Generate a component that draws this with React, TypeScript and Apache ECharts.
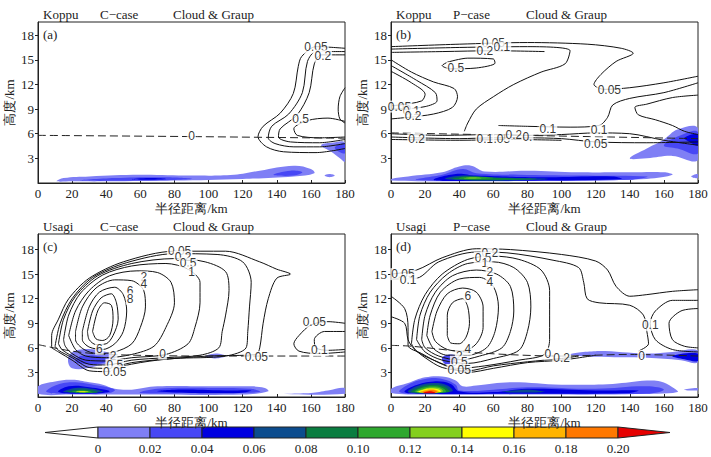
import React, { useEffect, useRef } from 'react';
import * as echarts from 'echarts';

type Pt = [number, number];

const xTicks = [0, 20, 40, 60, 80, 100, 120, 140, 160, 180];
const levelLabels = ['0', '0.02', '0.04', '0.06', '0.08', '0.10', '0.12', '0.14', '0.16', '0.18', '0.20'];
const fillColors = ['#7f7ff5', '#4747f5', '#0000e0', '#0b4c8e', '#0a7d40', '#2ea82e', '#84d01e', '#ffff00', '#ffb400', '#ff7800', '#e60000'];

// ---- panel (a) Koppu C-case
const aFills: [number, Pt[]][] = [
  [0, [[11, 0.2], [15, 0.6], [30, 0.8], [60, 1.0], [90, 0.9], [115, 1.0], [130, 1.5], [150, 2.1], [160, 1.7], [162, 1.2], [150, 0.8], [120, 0.5], [80, 0.3], [40, 0.2], [20, 0.2]]],
  [0, [[168, 0.9], [171, 1.1], [174, 0.9], [171, 0.7]]],
  [0, [[166, 4.6], [172, 3.8], [177, 3.0], [180, 2.6], [180, 4.9], [172, 4.9]]],
  [1, [[25, 0.3], [45, 0.6], [75, 0.7], [90, 0.5], [60, 0.3]]],
  [1, [[138, 1.0], [148, 1.5], [155, 1.3], [150, 0.9]]],
  [1, [[174, 4.3], [180, 3.6], [180, 4.8]]],
  [2, [[55, 0.45], [65, 0.6], [75, 0.5], [65, 0.4]]],
];
const aLines: Pt[][] = [
  [[180, 16.4], [163, 16.6], [154.6, 15.4], [152.6, 14.2], [149.7, 10.9], [142, 8.5], [132, 6.9], [129, 5.65], [134, 4.4], [144, 3.8], [163, 3.7], [180, 4.2]],
  [[180, 16.0], [163, 16.0], [158, 14.8], [155, 11], [147, 8.4], [137, 6.9], [135, 5.5], [139, 4.8], [150, 4.4], [165, 4.4], [180, 4.8]],
  [[180, 15.6], [166, 15.6], [162, 14.5], [159, 11], [152, 8.3], [142, 6.6], [141, 5.6], [148, 5.0], [165, 4.9], [180, 5.3]],
  [[180, 7.5], [170, 7.9], [158, 7.6], [150, 6.6], [152, 5.8], [165, 5.5], [180, 5.6]],
  [[180, 11.6], [177, 10.5], [176, 9], [177, 7.8], [180, 7.3]],
];
const aZero: Pt[] = [[0, 5.8], [90, 5.65], [180, 5.45]];
const aLabels: [number, number, string][] = [
  [163, 16.5, '0.05'], [167, 15.5, '0.2'], [154, 7.8, '0.5'], [90, 5.7, '0'],
];

// ---- panel (b) Koppu P-case
const bFills: [number, Pt[]][] = [
  [0, [[0, 0.3], [0, 0.5], [10, 0.8], [30, 1.3], [40, 2.0], [47, 2.1], [55, 1.4], [80, 1.5], [110, 1.3], [140, 1.3], [160, 1.3], [165, 1.0], [150, 0.5], [100, 0.3], [40, 0.2]]],
  [0, [[176, 0.8], [180, 1.1], [180, 0.6]]],
  [0, [[140, 3.0], [150, 4.2], [160, 5.3], [168, 6.5], [180, 6.7], [180, 2.8], [165, 3.3], [150, 3.0]]],
  [1, [[15, 0.4], [30, 1.0], [42, 1.7], [50, 1.2], [75, 1.0], [110, 0.9], [150, 0.8], [140, 0.4], [60, 0.3]]],
  [1, [[160, 4.6], [170, 5.8], [180, 6.2], [180, 3.6], [168, 4.2]]],
  [2, [[25, 0.4], [38, 1.1], [50, 0.9], [90, 0.7], [130, 0.8], [135, 0.5], [90, 0.3], [40, 0.25]]],
  [2, [[172, 5.5], [180, 5.9], [180, 4.6], [175, 5.0]]],
  [3, [[32, 0.5], [42, 0.9], [60, 0.7], [92, 0.5], [60, 0.3]]],
  [4, [[36, 0.5], [45, 0.8], [65, 0.6], [85, 0.5], [60, 0.35]]],
  [5, [[40, 0.55], [47, 0.72], [60, 0.6], [52, 0.5]]],
  [6, [[43, 0.58], [48, 0.66], [53, 0.57]]],
];
const bLines: Pt[][] = [
  [[0, 16.6], [40, 16.9], [80, 17.1], [115, 16.9], [135, 16.4], [142, 15.8], [132, 14.8], [123, 13.2], [119, 12.0], [125, 11.4], [140, 11.6], [160, 12.2], [180, 13.0]],
  [[0, 16.3], [40, 16.5], [80, 16.6], [105, 16.1], [102, 14.5], [88, 13.5], [72, 12], [60, 10.5], [50, 9], [45, 7.3], [43, 6.3]],
  [[0, 15.9], [30, 16.0], [60, 16.1], [90, 16.0]],
  [[0, 15.0], [12, 13.5], [25, 12.3], [37, 11.5], [39, 10.5], [36, 9.2], [25, 8.4], [10, 8.0], [0, 7.8]],
  [[0, 14.3], [15, 12.5], [26, 11.0], [27, 10.0], [20, 9.3], [5, 9.0], [0, 9.0]],
  [[0, 13.6], [12, 12.2], [20, 10.8], [18, 10.0], [5, 9.5], [0, 9.4]],
  [[33, 14.7], [45, 15.2], [60, 15.1], [61, 14.6], [50, 14.0], [35, 13.9], [30, 14.3], [33, 14.7]],
  [[63, 7.0], [80, 6.9], [105, 6.8], [122, 7.0], [127, 8.0], [130, 9.5], [140, 10.3], [160, 11.0], [180, 12.2]],
  [[180, 10.7], [165, 10.4], [150, 9.6], [143, 9.2], [145, 8.3], [155, 7.7], [165, 7.0], [172, 6.3], [180, 5.9]],
  [[0, 6.0], [30, 5.8], [60, 5.9], [80, 5.8], [100, 5.9], [120, 6.1], [140, 6.0], [160, 5.2], [180, 4.6]],
  [[0, 5.6], [40, 5.4], [60, 5.5], [80, 5.5], [100, 5.4], [120, 5.0], [150, 4.9], [180, 5.0]],
  [[0, 5.3], [40, 5.2], [70, 5.3], [100, 5.2]],
];
const bZero: Pt[] = [[0, 6.1], [90, 5.75], [180, 5.4]];
const bLabels: [number, number, string][] = [
  [60, 17.0, '0.05'], [65, 16.5, '0.1'], [55, 16.1, '0.2'], [38, 14.0, '0.5'], [5, 9.3, '0.05'], [12, 8.8, '0.1'], [13, 8.2, '0.2'],
  [128, 11.3, '0.05'], [92, 6.6, '0.1'], [122, 6.4, '0.1'], [15, 5.4, '0.2'], [55, 5.4, '0.1'], [65, 5.3, '.05'], [72, 5.8, '0.2'], [80, 5.6, '0.'], [120, 4.8, '0.05'],
];

// ---- panel (c) Usagi C-case
const cFills: [number, Pt[]][] = [
  [0, [[0, 0.4], [0, 1.3], [10, 1.9], [20, 2.1], [30, 1.8], [38, 1.5], [45, 1.0], [55, 0.9], [70, 1.3], [100, 1.3], [125, 1.3], [133, 1.1], [135, 0.7], [120, 0.3], [60, 0.3], [20, 0.3]]],
  [0, [[140, 0.4], [160, 0.5], [170, 0.8], [180, 1.1], [180, 0.4]]],
  [0, [[20, 3.5], [18, 5.0], [25, 5.8], [40, 5.5], [45, 4.6], [35, 3.8]]],
  [0, [[98, 4.9], [104, 5.3], [110, 5.0], [104, 4.7]]],
  [1, [[5, 0.6], [10, 1.4], [20, 1.8], [35, 1.4], [45, 0.9], [42, 0.5], [20, 0.4]]],
  [1, [[60, 0.5], [70, 1.0], [100, 1.1], [125, 1.0], [130, 0.6], [100, 0.5]]],
  [1, [[22, 4.3], [25, 5.0], [38, 4.9], [40, 4.3], [30, 4.0]]],
  [2, [[12, 0.6], [18, 1.3], [30, 1.2], [42, 0.7], [30, 0.4]]],
  [2, [[70, 0.7], [80, 0.9], [110, 0.8], [125, 0.8], [118, 0.5], [90, 0.5]]],
  [3, [[15, 0.6], [22, 1.1], [32, 1.0], [38, 0.6]]],
  [4, [[17, 0.6], [24, 0.9], [32, 0.8], [35, 0.55]]],
  [5, [[20, 0.6], [25, 0.8], [30, 0.7], [32, 0.55]]],
  [7, [[22, 0.6], [26, 0.7], [30, 0.6]]],
];
const cLines: Pt[][] = [
  [[8, 6.0], [8, 7.5], [12, 9.5], [18, 12.0], [30, 14.5], [50, 16.5], [80, 17.8], [110, 17.8], [130, 16.5], [140, 15.6], [148, 15.0], [140, 14.5], [135, 12], [132, 9], [130, 6], [128, 5.2], [100, 5.0], [70, 4.5], [50, 3.8], [40, 3.1], [30, 3.2], [20, 4.5], [12, 5.5], [8, 6.0]],
  [[10, 6.2], [13, 9], [20, 12], [32, 14.6], [52, 16.4], [80, 17.5], [105, 17.4], [120, 16.5], [125, 14], [124, 11], [123, 8], [122, 6], [110, 5.0], [80, 4.7], [55, 4.2], [40, 3.5], [30, 3.6], [20, 4.8], [12, 5.7], [10, 6.2]],
  [[12, 6.5], [15, 9.5], [22, 12.3], [35, 14.8], [55, 16.3], [80, 16.9], [98, 16.5], [110, 15.3], [112, 13], [110, 10], [108, 8], [106, 6.0], [95, 5.1], [75, 4.8], [55, 4.5], [40, 3.9], [30, 4.0], [20, 5.0], [14, 5.8], [12, 6.5]],
  [[15, 7], [18, 10], [25, 12.7], [38, 14.9], [55, 16.0], [75, 16.3], [88, 15.6], [95, 14], [95, 11.5], [92, 8.5], [88, 6.5], [75, 5.2], [55, 4.8], [40, 4.4], [28, 4.5], [20, 5.3], [16, 6.2], [15, 7]],
  [[18, 7.5], [22, 10.5], [30, 13], [42, 14.8], [58, 15.4], [70, 15.2], [78, 14], [80, 11.5], [75, 8.5], [68, 6.2], [55, 5.2], [40, 4.8], [28, 5.0], [22, 5.8], [18, 7.5]],
  [[22, 8], [26, 11], [34, 13.3], [45, 14.3], [55, 14.2], [62, 13], [63, 11], [60, 8.5], [55, 6.5], [45, 5.5], [35, 5.3], [27, 5.8], [22, 7], [22, 8]],
  [[26, 8], [30, 11], [36, 12.8], [45, 13.4], [50, 12.5], [52, 10.5], [50, 8], [45, 6.5], [38, 5.8], [30, 6.1], [26, 7], [26, 8]],
  [[29, 8], [32, 10.5], [37, 12.1], [43, 12.6], [46, 11.5], [47, 9.5], [44, 7.5], [40, 6.5], [34, 6.4], [30, 7], [29, 8]],
  [[32, 8], [35, 10.5], [39, 11.5], [43, 11.2], [44, 9.5], [42, 7.5], [38, 6.9], [34, 7.1], [32, 8]],
  [[180, 9.0], [170, 9.2], [160, 8.8], [153, 7.5], [150, 6.5], [153, 5.6], [165, 5.3], [180, 5.5]],
  [[180, 8.0], [168, 8.0], [162, 7], [163, 6], [170, 5.7], [180, 5.8]],
];
const cZero: Pt[] = [[0, 6.4], [20, 5.6], [40, 5.2], [100, 5.0], [180, 5.0]];
const cLabels: [number, number, string][] = [
  [83, 17.8, '0.05'], [85, 17.1, '0.2'], [88, 16.3, '0.5'], [90, 15.3, '1'], [62, 14.6, '2'], [62, 13.8, '4'], [54, 13.0, '6'], [54, 12.0, '8'],
  [36, 5.9, '6'], [44, 5.0, '2'], [45, 3.9, '0.5'], [45, 3.1, '0.05'], [73, 5.3, '0'], [128, 4.9, '0.05'], [162, 9.2, '0.05'], [165, 5.7, '0.1'],
];

// ---- panel (d) Usagi P-case
const dFills: [number, Pt[]][] = [
  [0, [[0, 0.5], [0, 1.0], [10, 1.7], [20, 2.4], [30, 2.5], [38, 2.0], [42, 1.3], [50, 1.4], [70, 1.8], [100, 1.5], [130, 1.6], [150, 2.0], [158, 1.9], [165, 1.2], [168, 0.6], [150, 0.4], [80, 0.3], [20, 0.3]]],
  [0, [[172, 0.9], [180, 1.1], [180, 0.8]]],
  [0, [[105, 5.2], [120, 5.6], [150, 5.3], [165, 5.5], [180, 5.7], [180, 4.2], [170, 4.5], [150, 4.8], [120, 4.9]]],
  [1, [[5, 0.6], [10, 1.5], [20, 2.2], [30, 2.2], [38, 1.5], [40, 0.8], [60, 0.9], [80, 1.2], [120, 1.0], [150, 1.3], [160, 0.9], [150, 0.4], [80, 0.4], [20, 0.4]]],
  [1, [[30, 4.8], [35, 5.2], [40, 4.8], [38, 4.2], [32, 4.0]]],
  [2, [[8, 0.6], [14, 1.4], [25, 1.9], [35, 1.6], [40, 0.7], [60, 0.6], [80, 1.0], [120, 0.8], [145, 0.8], [140, 0.5], [70, 0.4], [20, 0.4]]],
  [2, [[165, 5.0], [180, 5.3], [180, 4.4], [172, 4.6]]],
  [3, [[10, 0.6], [15, 1.3], [25, 1.7], [33, 1.4], [36, 0.7], [20, 0.45]]],
  [3, [[65, 0.6], [80, 0.9], [90, 0.6]]],
  [4, [[12, 0.6], [17, 1.2], [25, 1.5], [32, 1.2], [34, 0.6]]],
  [5, [[14, 0.6], [18, 1.1], [26, 1.3], [31, 1.0], [32, 0.6]]],
  [6, [[15, 0.6], [20, 1.05], [26, 1.15], [30, 0.9], [30, 0.6]]],
  [7, [[16, 0.6], [20, 0.95], [26, 1.0], [29, 0.8], [29, 0.6]]],
  [8, [[17, 0.6], [21, 0.9], [26, 0.9], [28, 0.6]]],
  [9, [[18, 0.55], [22, 0.8], [26, 0.8], [27, 0.55]]],
  [10, [[19, 0.5], [23, 0.7], [26, 0.5]]],
];
const dLines: Pt[][] = [
  [[0, 15.0], [15, 15.5], [30, 17.0], [50, 18.1], [70, 18.0], [100, 17.4], [120, 16.6], [127, 15.5], [132, 13.5], [140, 12.3], [150, 12.5], [165, 12.9], [180, 13.1]],
  [[0, 14.4], [15, 14.5], [28, 16.5], [50, 17.7], [68, 17.6], [95, 16.7], [110, 15.8], [113, 14], [115, 12], [122, 11.5], [140, 11.2], [148, 10], [150, 8], [151, 6.5], [145, 5.6]],
  [[0, 12.3], [8, 10.8], [10, 8.5], [10, 6.3], [18, 5.3], [30, 4.0], [45, 3.0], [60, 3.5], [80, 4.2], [100, 4.5], [120, 5.1]],
  [[0, 9.8], [8, 9], [10, 7], [13, 6], [20, 4.8], [30, 3.6], [45, 3.2], [60, 3.8], [80, 4.3], [100, 4.7], [110, 5.0]],
  [[12, 6.5], [14, 9.5], [20, 12.5], [30, 15], [45, 16.8], [60, 17.2], [75, 16.8], [88, 15.5], [93, 13], [93, 10], [93, 7], [90, 5.2], [75, 4.5], [55, 3.8], [40, 3.5], [25, 4.5], [15, 5.6], [12, 6.5]],
  [[15, 7], [17, 10], [23, 12.8], [33, 15], [45, 16.3], [60, 16.5], [72, 15.8], [80, 14], [82, 11], [80, 8], [75, 5.7], [60, 4.7], [45, 4.1], [30, 4.5], [20, 5.5], [15, 7]],
  [[18, 7], [20, 10], [26, 12.8], [36, 14.8], [50, 15.5], [62, 15.0], [70, 13.5], [72, 10.5], [70, 8], [65, 6], [52, 5.0], [40, 4.5], [28, 5.0], [20, 6], [18, 7]],
  [[21, 7.5], [23, 10], [29, 12.8], [40, 14.4], [52, 14.6], [60, 13.5], [63, 11], [61, 8], [56, 6], [45, 5.1], [33, 5.1], [25, 5.9], [21, 7.5]],
  [[24, 8], [27, 10.5], [33, 12.6], [42, 13.3], [50, 12.8], [54, 11], [54, 8.5], [50, 6.5], [42, 5.6], [33, 5.8], [26, 6.8], [24, 8]],
  [[33, 7.5], [33, 10], [36, 11.5], [42, 12], [45, 11], [46, 9], [44, 7.3], [40, 6.5], [35, 6.6], [33, 7.5]],
  [[180, 11.8], [165, 11.8], [155, 10.5], [152, 9], [155, 7], [165, 5.8], [180, 5.5]],
  [[180, 10.8], [170, 10.5], [163, 9], [165, 7], [172, 6.2], [180, 6.0]],
];
const dZero: Pt[] = [[0, 6.3], [12, 6.2], [50, 5.4], [100, 5.0], [140, 5.2], [180, 5.0]];
const dLabels: [number, number, string][] = [
  [7, 15.0, '0.05'], [10, 14.3, '0.1'], [58, 17.6, '0.2'], [54, 17.0, '0.5'], [55, 16.4, '1'], [58, 15.3, '2'], [58, 14.0, '4'], [45, 12.3, '6'],
  [45, 5.8, '4'], [40, 5.0, '2'], [40, 4.3, '0.5'], [40, 3.3, '0.05'], [92, 5.3, '0'], [100, 4.8, '0.2'], [152, 8.8, '0.1'], [147, 5.0, '0'],
];

const panels = [
  { storm: 'Koppu', kase: 'C\u2212case', tag: '(a)', fills: aFills, lines: aLines, zero: aZero, labels: aLabels },
  { storm: 'Koppu', kase: 'P\u2212case', tag: '(b)', fills: bFills, lines: bLines, zero: bZero, labels: bLabels },
  { storm: 'Usagi', kase: 'C\u2212case', tag: '(c)', fills: cFills, lines: cLines, zero: cZero, labels: cLabels },
  { storm: 'Usagi', kase: 'P\u2212case', tag: '(d)', fills: dFills, lines: dLines, zero: dZero, labels: dLabels },
];

const boxes = [
  { left: 38, top: 22, height: 161, max: 19.6 },
  { left: 391, top: 22, height: 161, max: 19.6 },
  { left: 38, top: 234, height: 163, max: 19.9 },
  { left: 391, top: 234, height: 163, max: 19.9 },
];

const serif = 'Liberation Serif';

const App = () => {
  const chartRef = useRef(null);

  useEffect(() => {
    const chart = echarts.init(chartRef.current, null, { renderer: 'svg' });

    const grid: any[] = [];
    const xAxis: any[] = [];
    const yAxis: any[] = [];
    const series: any[] = [];
    const graphic: any[] = [];

    panels.forEach((p, i) => {
      const b = boxes[i];
      grid.push({ left: b.left, top: b.top, width: 307, height: b.height, show: true, borderColor: '#222', borderWidth: 1, backgroundColor: 'transparent' });
      xAxis.push({
        gridIndex: i, type: 'value', min: 0, max: 180, interval: 20,
        name: '半径距离/km', nameLocation: 'middle', nameGap: 19,
        nameTextStyle: { fontFamily: serif, fontSize: 13, color: '#222' },
        axisLine: { lineStyle: { color: '#222' } }, axisTick: { inside: true, length: 3, lineStyle: { color: '#222' } },
        axisLabel: { fontFamily: serif, fontSize: 13, color: '#222', margin: 4 },
        splitLine: { show: false },
      });
      yAxis.push({
        gridIndex: i, type: 'value', min: 0, max: b.max, interval: 3,
        name: '高度/km', nameLocation: 'middle', nameGap: 22,
        nameTextStyle: { fontFamily: serif, fontSize: 13, color: '#222' },
        axisLine: { lineStyle: { color: '#222' } }, axisTick: { length: 3, lineStyle: { color: '#222' } },
        axisLabel: { fontFamily: serif, fontSize: 13, color: '#222', margin: 4, showMinLabel: false, showMaxLabel: false },
        splitLine: { show: false },
      });
      series.push({
        type: 'custom', xAxisIndex: i, yAxisIndex: i, clip: true, z: 1,
        data: p.fills.map((f, k) => [f[1][0][0], f[1][0][1], k]),
        renderItem: (params: any, api: any) => {
          const f = p.fills[api.value(2)];
          return {
            type: 'polygon',
            shape: { points: f[1].map((q) => api.coord(q)), smooth: 0.4 },
            style: { fill: fillColors[f[0]] },
          };
        },
      });
      p.lines.forEach((l) => {
        series.push({
          type: 'line', xAxisIndex: i, yAxisIndex: i, data: l, smooth: 0.3, symbol: 'none', z: 3,
          lineStyle: { color: '#111', width: 1 },
        });
      });
      series.push({
        type: 'line', xAxisIndex: i, yAxisIndex: i, data: p.zero, smooth: 0.3, symbol: 'none', z: 3,
        lineStyle: { color: '#222', width: 1, type: [8, 4] },
      });
      series.push({
        type: 'scatter', xAxisIndex: i, yAxisIndex: i, symbolSize: 0, z: 5,
        data: p.labels.map((t) => ({ value: [t[0], t[1]], name: t[2] })),
        label: {
          show: true, position: 'inside', formatter: '{b}', fontFamily: 'Liberation Sans', fontSize: 12, color: '#000',
          backgroundColor: '#fff', padding: [0, 1],
        },
      });
      const tx = b.left + 5;
      const ty = b.top - 14;
      graphic.push(
        { type: 'text', left: tx, top: ty, style: { text: p.storm, font: `13px "${serif}"`, fill: '#222' } },
        { type: 'text', left: tx + 57, top: ty, style: { text: p.kase, font: `13px "${serif}"`, fill: '#222' } },
        { type: 'text', left: tx + 130, top: ty, style: { text: 'Cloud & Graup', font: `13px "${serif}"`, fill: '#222' } },
        { type: 'text', left: b.left + 5, top: b.top + 6, style: { text: p.tag, font: `13px "${serif}"`, fill: '#222' } },
      );
    });

    // colour bar
    const x0 = 98;
    const w = 52;
    const y0 = 427;
    const h = 11;
    graphic.push({ type: 'polygon', shape: { points: [[x0, y0], [x0, y0 + h], [45, y0 + h / 2]] }, style: { fill: '#fff', stroke: '#222', lineWidth: 1 } });
    for (let k = 0; k < levelLabels.length - 1; k++) {
      graphic.push({ type: 'rect', shape: { x: x0 + k * w, y: y0, width: w, height: h }, style: { fill: fillColors[k], stroke: '#222', lineWidth: 1 } });
    }
    const xe = x0 + (levelLabels.length - 1) * w;
    graphic.push({ type: 'polygon', shape: { points: [[xe, y0], [xe, y0 + h], [xe + 52, y0 + h / 2]] }, style: { fill: fillColors[10], stroke: '#222', lineWidth: 1 } });
    levelLabels.forEach((t, k) => {
      graphic.push({ type: 'text', x: x0 + k * w, y: y0 + h + 4, style: { text: t, font: `13px "${serif}"`, fill: '#222', align: 'center', verticalAlign: 'top' } });
    });

    chart.setOption({ animation: false, backgroundColor: '#fff', grid, xAxis, yAxis, series, graphic });

    return () => {
      chart.dispose();
    };
  }, []);

  return <div ref={chartRef} style={{ width: '711px', height: '457px', position: 'absolute', left: 0, top: 0 }} />;
};

export default App;
